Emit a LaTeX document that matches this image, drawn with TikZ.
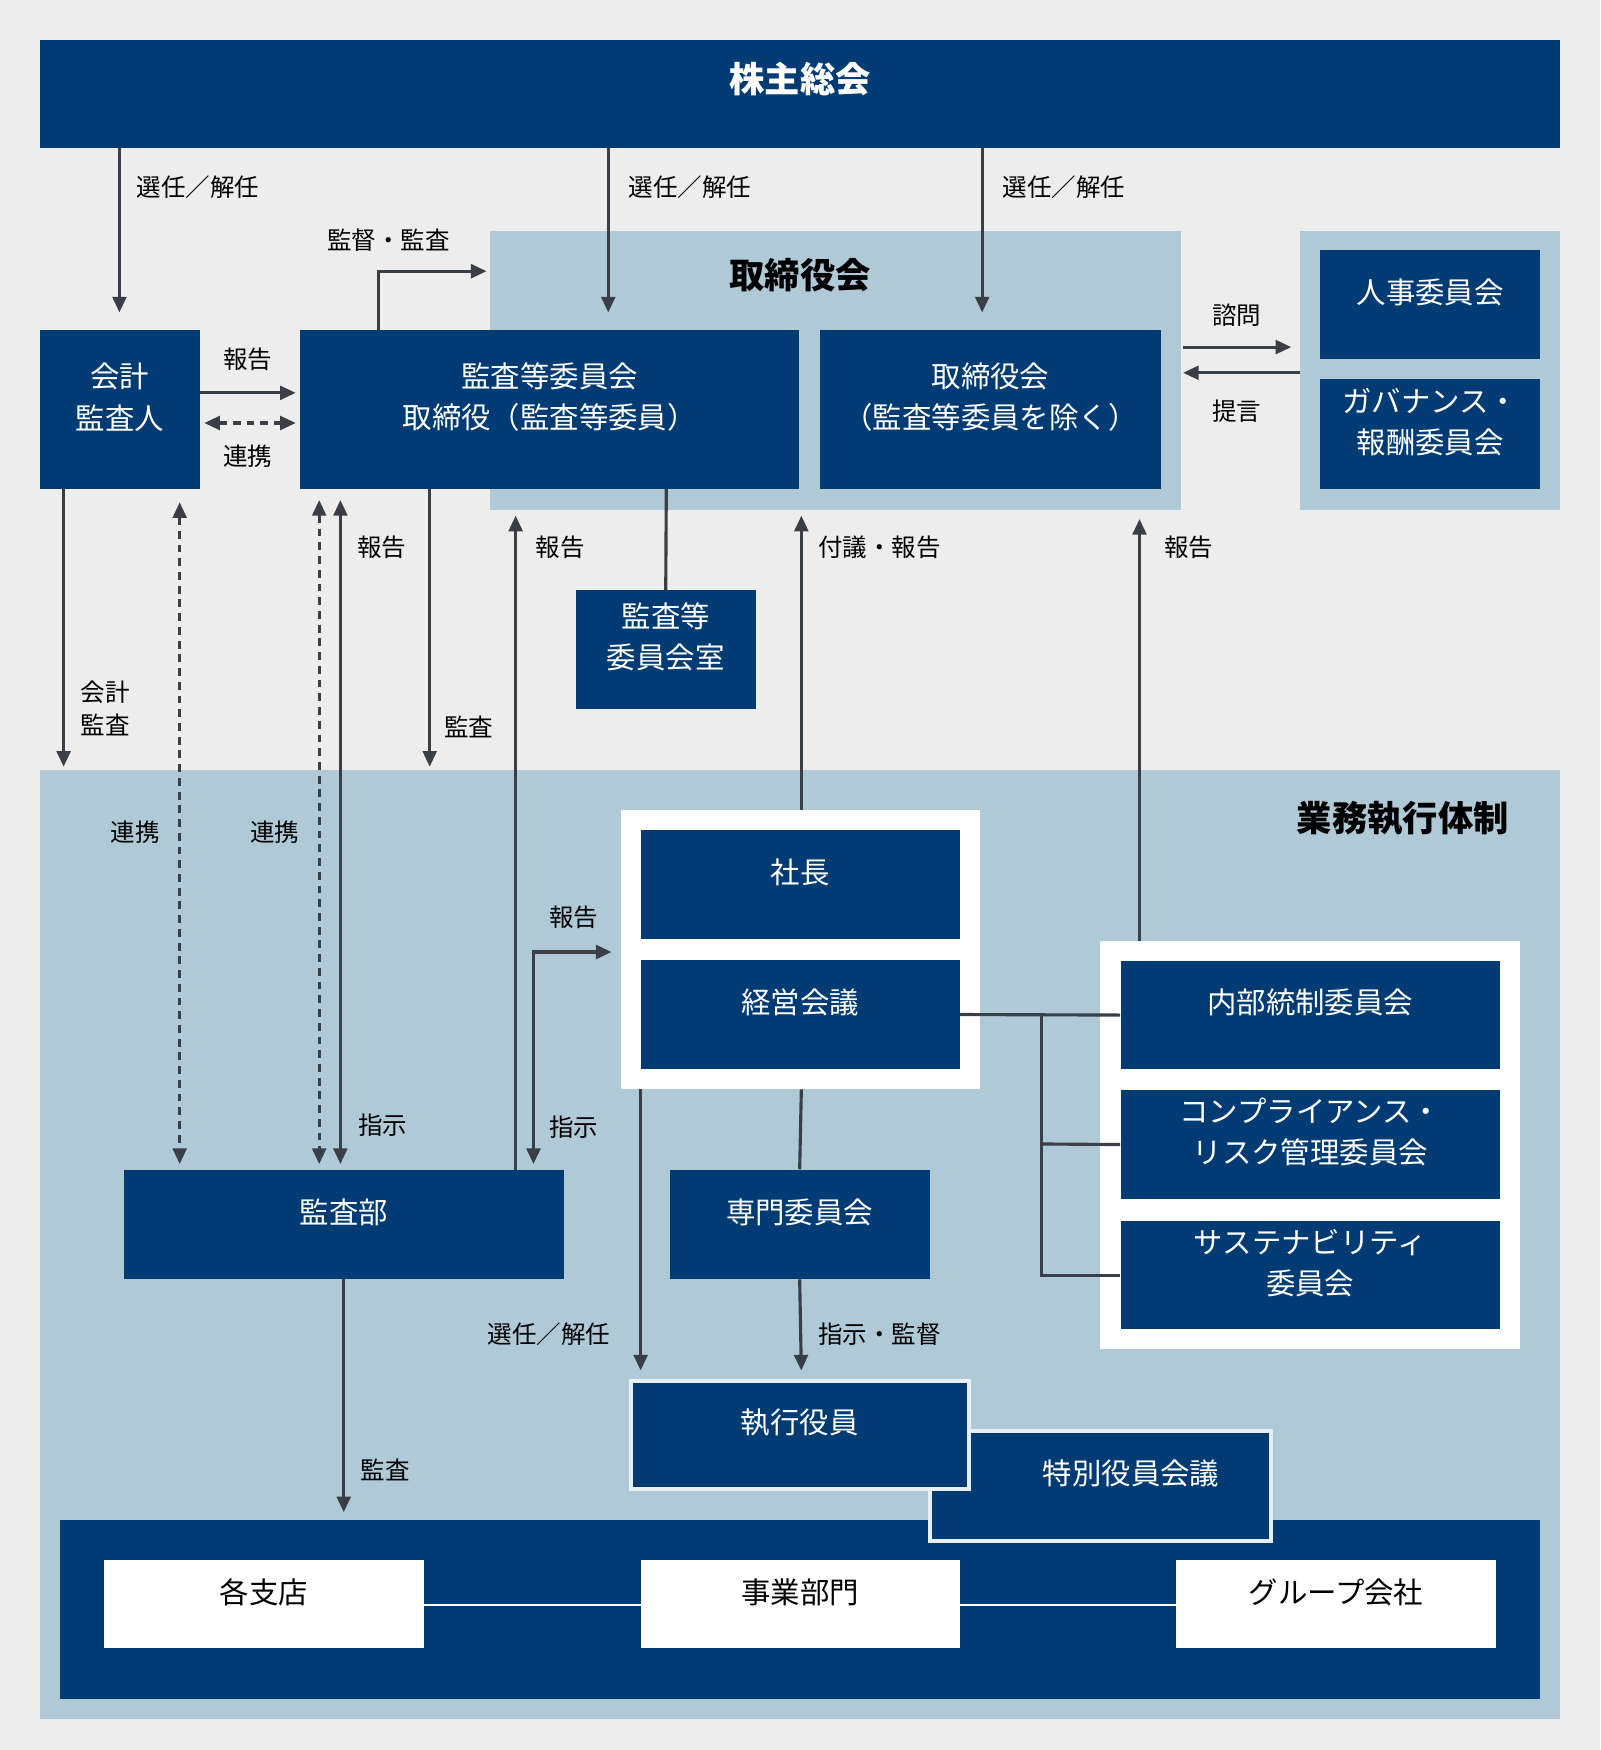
\documentclass[tikz,border=0pt]{standalone}
\usepackage{fontspec}
\setmainfont{Noto Sans CJK JP}
\usetikzlibrary{arrows.meta, positioning, fit, calc}
\definecolor{navy}{RGB}{0, 59, 115}
\definecolor{pale}{RGB}{175, 201, 214}
\definecolor{bg}{RGB}{237, 237, 237}
\definecolor{ink}{RGB}{58, 63, 71}
\tikzset{
  box/.style={rectangle, fill=navy, text=white, inner sep=0pt, align=center, font=\fontsize{15}{21}\selectfont},
  wbox/.style={rectangle, fill=white, text=black, inner sep=0pt, align=center, font=\fontsize{15}{21}\selectfont},
  area/.style={rectangle, fill=pale, inner sep=0pt},
  arr/.style={ink, line width=1.6pt, -{Triangle[length=8pt, width=7pt]}},
  darr/.style={arr, {Triangle[length=8pt, width=7pt]}-{Triangle[length=8pt, width=7pt]}},
  dasharr/.style={darr, dash pattern=on 4pt off 3pt},
  ln/.style={ink, line width=1.6pt},
  lbl/.style={font=\fontsize{12.5}{17}\selectfont, text=black, inner sep=0pt, align=left}
}
\begin{document}
\begin{tikzpicture}[x=0.02cm, y=-0.02cm]
  % background
  \fill[bg] (0,0) rectangle (1434,1568);
  \useasboundingbox (0,0) rectangle (1434,1568);

  % shareholders and board
  \node[box, fit={(36,36)(1398,133)}, font=\fontsize{18}{22}\selectfont\bfseries] (ks) {株主総会};
  \node[area, fit={(439,207)(1058,457)}] (tb) {};
  \node[font=\fontsize{18}{22}\selectfont\bfseries] at (717,247) {取締役会};
  \node[area, fit={(1165,207)(1398,457)}] (iin) {};
  \node[box, fit={(1183,224)(1380,322)}] (jinji) {人事委員会};
  \node[box, fit={(1183,340)(1380,438)}] (gov) {ガバナンス・\\報酬委員会};
  \node[box, fit={(36,296)(179,438)}] (kaikei) {会計\\監査人};
  \node[box, fit={(269,296)(716,438)}] (kansa) {監査等委員会\\取締役（監査等委員）};
  \node[box, fit={(735,296)(1040,438)}] (tori) {取締役会\\（監査等委員を除く）};
  \node[box, fit={(516,529)(677,635)}] (shitsu) {監査等\\委員会室};

  % execution area
  \node[area, fit={(36,690)(1398,1540)}] (gyomu) {};
  \node[font=\fontsize{18}{22}\selectfont\bfseries, anchor=east] at (1358,733) {業務執行体制};
  \fill[white] (556,726) rectangle (878,976);
  \node[box, fit={(574,744)(860,841)}] (shacho) {社長};
  \node[box, fit={(574,860)(860,958)}] (keiei) {経営会議};
  \fill[white] (986,843) rectangle (1362,1209);
  \node[box, fit={(1004,861)(1344,958)}] (naibu) {内部統制委員会};
  \node[box, fit={(1004,977)(1344,1074)}] (comp) {コンプライアンス・\\リスク管理委員会};
  \node[box, fit={(1004,1094)(1344,1191)}] (sus) {サステナビリティ\\委員会};
  \node[box, fit={(111,1048)(505,1146)}] (kansabu) {監査部};
  \node[box, fit={(600,1048)(833,1146)}] (senmon) {専門委員会};
  \node[box, fit={(54,1362)(1380,1522)}] (base) {};
  \node[box, fit={(833,1282)(1139,1381)}, draw=white!70!pale, line width=2pt] (tokubetsu) {\hspace*{1.1cm}特別役員会議};
  \node[box, fit={(565,1237)(868,1334)}, draw=white!70!pale, line width=2pt] (shikko) {執行役員};
  \draw[white, line width=1.2pt] (380,1438) -- (1054,1438);
  \node[wbox, fit={(93,1398)(380,1477)}] (shiten) {各支店};
  \node[wbox, fit={(574,1398)(860,1477)}] (jigyo) {事業部門};
  \node[wbox, fit={(1054,1398)(1340,1477)}] (group) {グループ会社};

  % top arrows
  \draw[arr] (107,133) -- (107,280);
  \node[lbl, anchor=west] at (122,168) {選任／解任};
  \draw[arr] (545,133) -- (545,280);
  \node[lbl, anchor=west] at (563,168) {選任／解任};
  \draw[arr] (880,133) -- (880,280);
  \node[lbl, anchor=west] at (898,168) {選任／解任};
  \draw[arr] (339,296) |- (436,243);
  \node[lbl] at (348,215) {監督・監査};
  \draw[arr] (kaikei.east |- 0,352) -- (265,352);
  \node[lbl] at (222,322) {報告};
  \draw[dasharr] (183,379) -- (265,379);
  \node[lbl] at (222,409) {連携};
  \draw[arr] (1060,311) -- (1157,311);
  \node[lbl] at (1108,282) {諮問};
  \draw[arr] (iin.west |- 0,334) -- (1060,334);
  \node[lbl] at (1108,368) {提言};

  % middle connectors
  \draw[arr] (57,438) -- (57,687);
  \node[lbl, anchor=west] at (72,635) {会計\\監査};
  \draw[dasharr] (161,450) -- (161,1043);
  \node[lbl] at (121,746) {連携};
  \draw[dasharr] (286,448) -- (286,1043);
  \node[lbl] at (246,746) {連携};
  \draw[darr] (305,448) -- (305,1043);
  \node[lbl] at (342,490) {報告};
  \node[lbl] at (343,1008) {指示};
  \draw[arr] (385,438) -- (385,687);
  \node[lbl] at (420,651) {監査};
  \draw[arr] (462,1048) -- (462,462);
  \node[lbl] at (502,490) {報告};
  \draw[ln] (shitsu.north) -- (597,438);
  \draw[arr] (718,726) -- (718,462);
  \node[lbl] at (788,490) {付議・報告};
  \draw[arr] (1021,843) -- (1021,465);
  \node[lbl] at (1065,490) {報告};
  \draw[darr] (478,1043) |- (548,853);
  \node[lbl] at (514,822) {報告};
  \node[lbl] at (514,1010) {指示};
  \draw[arr] (574,976) -- (574,1228);
  \node[lbl] at (492,1195) {選任／解任};
  \draw[ln] (718,976) -- (senmon.north);
  \draw[arr] (senmon.south) -- (718,1228);
  \node[lbl] at (788,1195) {指示・監督};
  \draw[arr] (kansabu.south) -- (308,1355);
  \node[lbl] at (345,1317) {監査};
  \draw[ln] (keiei.east) -- (naibu.west);
  \draw[ln] (933,910) |- (sus.west);
  \draw[ln] (933,1025) -- (comp.west);
\end{tikzpicture}
\end{document}
